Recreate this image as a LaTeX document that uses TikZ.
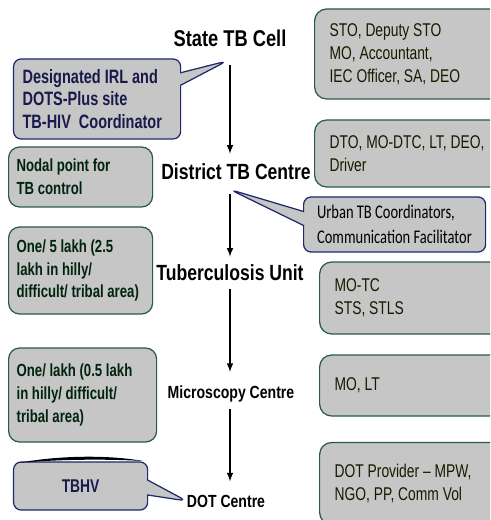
\documentclass[tikz,border=0pt]{standalone}
\usepackage{fontspec}
\usetikzlibrary{arrows,shapes.callouts}
\newfontfamily\headfont[FakeStretch=0.8]{Liberation Sans}
\newfontfamily\narrowfont[FakeStretch=0.75]{Liberation Sans}
\newfontfamily\calibrifont[FakeStretch=0.75]{Carlito}

\definecolor{boxgray}{RGB}{198,198,198}
\definecolor{boxedge}{RGB}{40,90,75}
\definecolor{calledge}{RGB}{30,40,110}
\definecolor{navytext}{RGB}{25,25,75}
\definecolor{greentext}{RGB}{0,35,15}
\definecolor{olivetext}{RGB}{25,25,0}

\begin{document}
\begin{tikzpicture}[
  title/.style={anchor=base,inner sep=0pt,font=\headfont\bfseries},
  gbox/.style={draw=boxedge,fill=boxgray,line width=0.7pt,rounded corners=0.22cm,
    anchor=west,align=flush left,inner xsep=0.16cm,text=greentext,
    font=\narrowfont\bfseries\fontsize{10}{13}\selectfont},
  rbox/.style={draw=boxedge,fill=boxgray,line width=0.7pt,rounded corners=0.24cm,
    anchor=west,align=flush left,inner xsep=0.3cm,text width=3.6cm,
    text=olivetext,font=\narrowfont\fontsize{10.5}{13}\selectfont},
  cbox/.style={rectangle callout,draw=calledge,fill=boxgray,line width=0.7pt,
    rounded corners=0.15cm,anchor=west,align=flush left},
  arr/.style={-latex,line width=0.7pt}]

  \clip (0,0) rectangle (9.8,-10.4);

  % levels
  \node[title,font=\headfont\bfseries\fontsize{13}{15}\selectfont] (stc) at (4.6,-0.94) {State TB Cell};
  \node[title,font=\headfont\bfseries\fontsize{12.5}{15}\selectfont] (dtc) at (4.72,-3.6) {District TB Centre};
  \node[title,font=\headfont\bfseries\fontsize{12.5}{15}\selectfont] (tu) at (4.6,-5.6) {Tuberculosis Unit};
  \node[title,font=\headfont\bfseries\fontsize{10}{12}\selectfont] (mc) at (4.62,-7.96) {Microscopy Centre};
  \node[title,font=\headfont\bfseries\fontsize{10}{12}\selectfont] (dotc) at (4.52,-10.14) {DOT Centre};

  \draw[arr,shorten <=3.4mm,shorten >=2mm] (stc.south) -- (stc |- dtc.north);
  \draw[arr,shorten <=2.6mm,shorten >=1.4mm] (dtc.south -| stc) -- (stc |- tu.north);
  \draw[arr,shorten <=1.6mm,shorten >=2.6mm] (tu.south -| stc) -- (stc |- mc.north);
  \draw[arr,shorten <=1.4mm,shorten >=2.6mm] (mc.south -| stc) -- (stc |- dotc.north);

  % staff
  \node[rbox,minimum height=1.8cm] (sto) at (6.28,-1.08) {STO, Deputy STO\\MO, Accountant,\\IEC Officer, SA, DEO};
  \node[rbox,minimum height=1.34cm] (dto) at (6.28,-3.07) {DTO, MO-DTC, LT, DEO,\\Driver};
  \node[rbox,minimum height=1.44cm] (motc) at (6.38,-5.96) {MO-TC\\STS, STLS};
  \node[rbox,minimum height=1.22cm] (molt) at (6.38,-7.71) {MO, LT};
  \node[rbox,minimum height=1.64cm] (dotp) at (6.38,-9.67) {DOT Provider – MPW,\\NGO, PP, Comm Vol};

  % norms
  \node[gbox,text width=2.56cm,minimum height=1.2cm] (nodal) at (0.16,-3.54) {Nodal point for\\TB control};
  \node[gbox,text width=2.56cm,minimum height=1.74cm] (lakhfive) at (0.16,-5.41) {One/ 5 lakh (2.5\\lakh in hilly/\\difficult/ tribal area)};
  \node[gbox,text width=2.64cm,minimum height=1.88cm] (lakhone) at (0.16,-7.9) {One/ lakh (0.5 lakh\\in hilly/ difficult/\\tribal area)};

  % callouts
  \node[cbox,callout absolute pointer={(4.54,-1.22)},callout pointer width=0.25cm,
    text width=2.98cm,inner xsep=0.18cm,minimum height=1.6cm,
    text=navytext,font=\narrowfont\bfseries\fontsize{11}{13}\selectfont] (irl) at (0.26,-1.98)
    {Designated IRL and\\DOTS-Plus site\\TB-HIV\ \ Coordinator};
  \node[cbox,callout absolute pointer={([yshift=-0.18cm]stc |- dtc.south)},callout pointer width=0.28cm,
    text width=3.1cm,inner xsep=0.27cm,minimum height=1.1cm,
    font=\calibrifont\fontsize{11}{14.2}\selectfont] (urban) at (6.06,-4.49)
    {Urban TB Coordinators,\\Communication Facilitator};
  \node[cbox,callout absolute pointer={(dotc.west)},callout pointer width=0.3cm,
    minimum width=2.68cm,minimum height=0.96cm,align=center,
    text=navytext,font=\narrowfont\bfseries\fontsize{10.5}{12}\selectfont] (tbhv) at (0.26,-9.72) {TBHV};
  \fill (0.36,-9.26) .. controls (1.2,-9.1) and (2.2,-9.1) .. (2.86,-9.22)
    .. controls (2.2,-9.18) and (1.2,-9.18) .. (0.36,-9.26);

\end{tikzpicture}
\end{document}
